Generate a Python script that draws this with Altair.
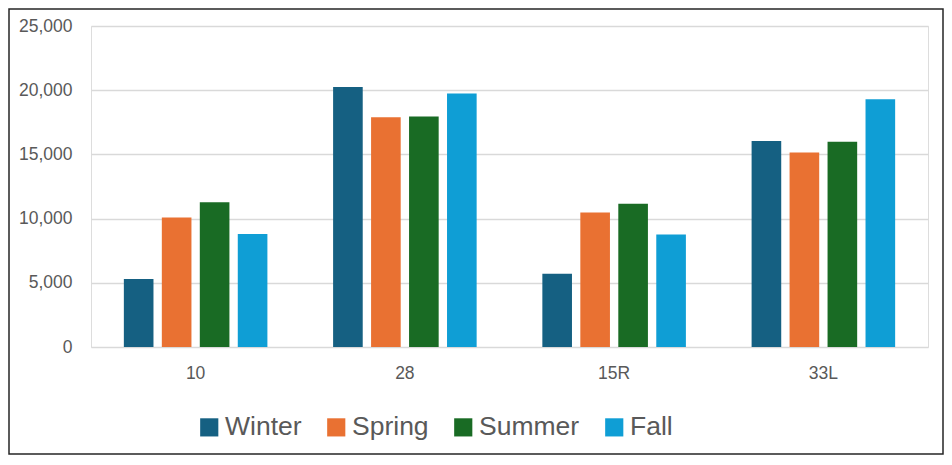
import altair as alt
import pandas as pd

categories = ["10", "28", "15R", "33L"]
seasons = ["Winter", "Spring", "Summer", "Fall"]
winter = [5300, 20250, 5700, 16050]
spring = [10080, 17900, 10480, 15150]
summer = [11280, 17950, 11150, 15990]
fall = [8800, 19750, 8760, 19300]
colors = ["#156082", "#E97132", "#196B24", "#0F9ED5"]

rows = []
for i, c in enumerate(categories):
    for s, vals in zip(seasons, [winter, spring, summer, fall]):
        rows.append({"Runway": c, "Season": s, "Value": vals[i]})
df = pd.DataFrame(rows)

W, H = 837, 321
PL, PT = 83, 18
TOTAL_W, TOTAL_H = 936, 447
PR = TOTAL_W - PL - W
PB = TOTAL_H - PT - H

bars = alt.Chart(df).mark_bar().encode(
    x=alt.X("Runway:N", sort=categories, title=None,
            scale=alt.Scale(paddingInner=0.314, paddingOuter=0.157),
            axis=alt.Axis(labelAngle=0, ticks=False, domain=False, labelFontSize=17.5,
                          labelColor="#595959", labelPadding=17, labelFont="Liberation Sans")),
    xOffset=alt.XOffset("Season:N", sort=seasons,
                        scale=alt.Scale(paddingInner=0.22, paddingOuter=0)),
    y=alt.Y("Value:Q", title=None,
            scale=alt.Scale(domain=[0, 25000], nice=False),
            axis=alt.Axis(values=[0, 5000, 10000, 15000, 20000, 25000], format=",.0f",
                          ticks=False, domain=False, labelFontSize=17.5, labelColor="#595959",
                          labelPadding=19, labelFont="Liberation Sans",
                          gridColor="#D9D9D9", gridWidth=1.3)),
    color=alt.Color("Season:N", sort=seasons,
                    scale=alt.Scale(domain=seasons, range=colors),
                    legend=alt.Legend(title=None, orient="none", direction="horizontal",
                                      legendX=105, legendY=388, symbolType="square",
                                      symbolSize=330, symbolStrokeWidth=0,
                                      labelFontSize=26.5, labelFont="Liberation Sans",
                                      labelColor="#595959", labelOffset=2.5,
                                      columnPadding=21, labelLimit=300)),
)

border_df = pd.DataFrame({"x": [0]})
border = alt.Chart(border_df).mark_rect(fill="transparent", stroke="#262626", strokeWidth=1.5).encode(
    x=alt.value(-82), x2=alt.value(W + PR - 1),
    y=alt.value(-PT + 1), y2=alt.value(H + PB - 1),
)

chart = alt.layer(bars, border).properties(
    width=W, height=H,
    autosize=alt.AutoSizeParams(type="none"),
    padding={"left": PL, "top": PT, "right": PR, "bottom": PB},
).configure_view(stroke=None).configure(background="white")

chart.save("out.html", embed_options={"renderer": "svg", "actions": False})
